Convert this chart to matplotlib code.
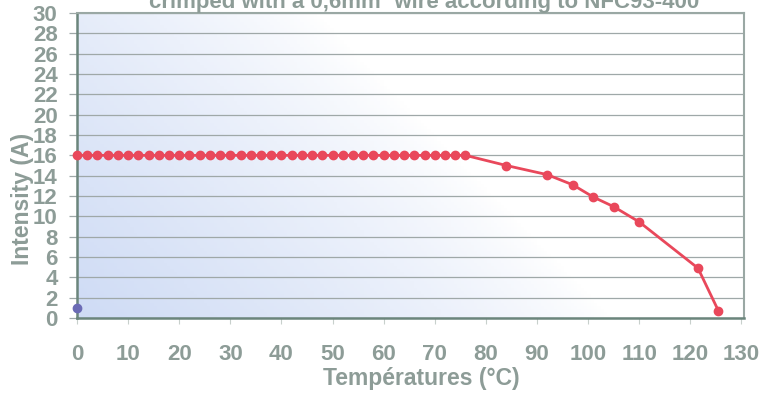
import numpy as np
import matplotlib.pyplot as plt
from matplotlib.font_manager import FontProperties

# data
temp_flat = list(range(0, 78, 2))
intens_flat = [16] * len(temp_flat)
temp_drop = [84, 92, 97, 101, 105, 110, 121.5, 125.5]
intens_drop = [15.0, 14.1, 13.1, 11.9, 10.95, 9.45, 4.9, 0.7]
temp_blue = [0]
intens_blue = [1]

temps = temp_flat + temp_drop
intens = intens_flat + intens_drop


def bold(size):
    return FontProperties(family=['Liberation Sans', 'DejaVu Sans'], weight='bold', size=size)


txt = '#8d9c97'
red = '#e9485b'

fig = plt.figure(figsize=(7.63, 3.96), dpi=100)
ax = fig.add_axes([77 / 763, 78 / 396, 667 / 763, 305 / 396])

# blue-to-white background gradient
gx = np.linspace(0, 1, 200)
gy = np.linspace(0, 1, 100)
X, Y = np.meshgrid(gx, gy)
t = np.clip(1 - (X * 1.25 + Y * 0.55), 0, 1) ** 0.8
c0 = np.array([1.0, 1.0, 1.0])
c1 = np.array([0.81, 0.86, 0.96])
img = c0 + (c1 - c0) * t[..., None]
ax.imshow(img, extent=[0, 1, 0, 1], transform=ax.transAxes, origin='lower',
          aspect='auto', zorder=0)

ax.set_xlim(0, 130.5)
ax.set_ylim(0, 30)
ax.set_yticks(range(0, 31, 2))
ax.set_xticks(range(0, 131, 10))
ax.yaxis.grid(True, color='#9fa8a8', lw=0.9)
ax.set_axisbelow(True)

ax.plot(temps, intens, color=red, lw=2, zorder=3, clip_on=False)
ax.plot(temps, intens, 'o', color=red, ms=6, zorder=4, clip_on=False)
ax.plot(temp_blue, intens_blue, 'o', color='#6b6bb5', ms=6, zorder=4, clip_on=False)

for s in ['left', 'bottom']:
    ax.spines[s].set_color('#6b857c')
    ax.spines[s].set_linewidth(1.8)
for s in ['top', 'right']:
    ax.spines[s].set_color('#9aa8a4')
    ax.spines[s].set_linewidth(1.5)

ax.tick_params(axis='y', length=6, width=0.9, color='#9fa8a8', pad=8, labelcolor=txt)
ax.tick_params(axis='x', length=4, color='#c8d0cc', pad=15, labelcolor=txt)
for lab in ax.get_xticklabels() + ax.get_yticklabels():
    lab.set_fontproperties(bold(16))

ax.set_ylabel('Intensity (A)', fontproperties=bold(16.5), color=txt)
ax.yaxis.set_label_coords(-0.065, 0.39)
ax.set_xlabel('Températures (°C)', fontproperties=bold(16.5), color=txt)
ax.xaxis.set_label_coords(0.516, -0.160)

fig.text(0.556, 0.980, 'crimped with a 0,6mm² wire according to NFC93-400',
         ha='center', va='baseline', fontproperties=bold(16), color=txt)

fig.savefig('out.png', dpi=100)
